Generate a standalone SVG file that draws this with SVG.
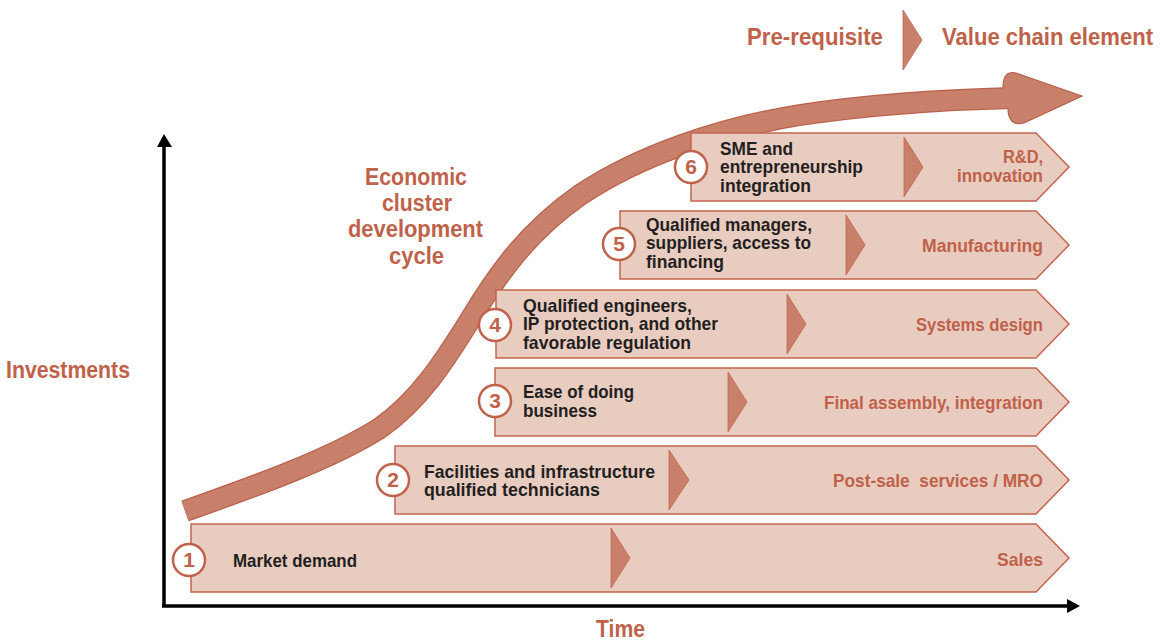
<svg xmlns="http://www.w3.org/2000/svg" width="1166" height="640" viewBox="0 0 1166 640">
<style>
.bar{fill:#e9ccc0;stroke:#c4644e;stroke-width:1.5}
.tri{fill:#c8806b;stroke:#c4644e;stroke-width:0.8}
.num{fill:#fff;stroke:#c0614a;stroke-width:2.5}
text{font-family:"Liberation Sans",Arial,sans-serif;font-weight:bold}
.numt{font-size:21px;fill:#c0614a;text-anchor:middle}
.dt{font-size:19px;fill:#231f20}
.ot{font-size:19px;fill:#c0614a;text-anchor:end}
.big{font-size:23px;fill:#c0614a}
</style>
<rect width="1166" height="640" fill="#fff"/>

<g id="connectors">
<line x1="164" y1="606" x2="164" y2="147" stroke="#000" stroke-width="3.5"/>
<path d="M157,147 L164,134 L172,147 Z" fill="#000"/>
<line x1="162" y1="606" x2="1067" y2="606" stroke="#000" stroke-width="3.5"/>
<path d="M1067,599 L1080,606 L1067,613 Z" fill="#000"/>
</g>

<g id="cycle-arrow">
<path d="M185,511 C250,488 330,460 380,428 C420,400 445,360 470,320 C500,270 530,230 580,195 C640,155 720,128 800,115 C860,106 930,100 1012,98" fill="none" stroke="#b9614b" stroke-width="22"/>
<path d="M1003,88 Q1003,70 1016,73 L1082,96 L1024,123 Q1008,127 1008,108 Z" fill="#c8806b" stroke="#b9614b" stroke-width="1.2"/>
<path d="M185,511 C250,488 330,460 380,428 C420,400 445,360 470,320 C500,270 530,230 580,195 C640,155 720,128 800,115 C860,106 930,100 1014,98" fill="none" stroke="#c8806b" stroke-width="19.5"/>
</g>

<g id="bar1">
<path class="bar" d="M191,524 H1036 L1069,558 L1036,592 H191 Z"/>
<path class="tri" d="M611,528 L630,558 L611,588 Z"/>
<circle class="num" cx="189" cy="560" r="16"/>
<text class="numt" x="189" y="567">1</text>
<text class="dt" x="233" y="567" textLength="124" lengthAdjust="spacingAndGlyphs">Market demand</text>
<text class="ot" x="1043" y="566" textLength="46" lengthAdjust="spacingAndGlyphs">Sales</text>
</g>

<g id="bar2">
<path class="bar" d="M395,446 H1036 L1069,480 L1036,514 H395 Z"/>
<path class="tri" d="M669,450 L689,480 L669,510 Z"/>
<circle class="num" cx="393" cy="480" r="16"/>
<text class="numt" x="393" y="487">2</text>
<text class="dt" x="424" y="478" textLength="231" lengthAdjust="spacingAndGlyphs">Facilities and infrastructure</text>
<text class="dt" x="424" y="496" textLength="176" lengthAdjust="spacingAndGlyphs">qualified technicians</text>
<text class="ot" x="1043" y="487" xml:space="preserve" textLength="210" lengthAdjust="spacingAndGlyphs">Post-sale  services / MRO</text>
</g>

<g id="bar3">
<path class="bar" d="M495,368 H1036 L1069,402 L1036,436 H495 Z"/>
<path class="tri" d="M728,372 L747,402 L728,432 Z"/>
<circle class="num" cx="495" cy="401" r="16"/>
<text class="numt" x="495" y="408">3</text>
<text class="dt" x="523" y="398" textLength="111" lengthAdjust="spacingAndGlyphs">Ease of doing</text>
<text class="dt" x="523" y="417" textLength="74" lengthAdjust="spacingAndGlyphs">business</text>
<text class="ot" x="1043" y="409" textLength="219" lengthAdjust="spacingAndGlyphs">Final assembly, integration</text>
</g>

<g id="bar4">
<path class="bar" d="M496,290 H1036 L1069,324 L1036,358 H496 Z"/>
<path class="tri" d="M787,294 L806,324 L787,354 Z"/>
<circle class="num" cx="495" cy="325" r="16"/>
<text class="numt" x="495" y="332">4</text>
<text class="dt" x="523" y="312" textLength="169" lengthAdjust="spacingAndGlyphs">Qualified engineers,</text>
<text class="dt" x="523" y="330" textLength="195" lengthAdjust="spacingAndGlyphs">IP protection, and other</text>
<text class="dt" x="523" y="349" textLength="168" lengthAdjust="spacingAndGlyphs">favorable regulation</text>
<text class="ot" x="1043" y="331" textLength="127" lengthAdjust="spacingAndGlyphs">Systems design</text>
</g>

<g id="bar5">
<path class="bar" d="M620,211 H1036 L1069,245 L1036,279 H620 Z"/>
<path class="tri" d="M846,215 L865,245 L846,275 Z"/>
<circle class="num" cx="619" cy="244" r="16"/>
<text class="numt" x="619" y="251">5</text>
<text class="dt" x="646" y="231" textLength="166" lengthAdjust="spacingAndGlyphs">Qualified managers,</text>
<text class="dt" x="646" y="249" textLength="165" lengthAdjust="spacingAndGlyphs">suppliers, access to</text>
<text class="dt" x="646" y="268" textLength="78" lengthAdjust="spacingAndGlyphs">financing</text>
<text class="ot" x="1043" y="252" textLength="121" lengthAdjust="spacingAndGlyphs">Manufacturing</text>
</g>

<g id="bar6">
<path class="bar" d="M691,133 H1036 L1069,167 L1036,201 H691 Z"/>
<path class="tri" d="M904,137 L923,167 L904,197 Z"/>
<circle class="num" cx="691" cy="167" r="16"/>
<text class="numt" x="691" y="174">6</text>
<text class="dt" x="720" y="155" textLength="73" lengthAdjust="spacingAndGlyphs">SME and</text>
<text class="dt" x="720" y="173" textLength="143" lengthAdjust="spacingAndGlyphs">entrepreneurship</text>
<text class="dt" x="720" y="192" textLength="91" lengthAdjust="spacingAndGlyphs">integration</text>
<text class="ot" x="1043" y="163" textLength="40" lengthAdjust="spacingAndGlyphs">R&amp;D,</text>
<text class="ot" x="1043" y="182" textLength="86" lengthAdjust="spacingAndGlyphs">innovation</text>
</g>

<g id="legend">
<text class="big" x="747" y="45" textLength="136" lengthAdjust="spacingAndGlyphs">Pre-requisite</text>
<path class="tri" d="M903,10 L922,40 L903,70 Z"/>
<text class="big" x="942" y="45" textLength="211" lengthAdjust="spacingAndGlyphs">Value chain element</text>
</g>

<g id="labels">
<text class="big" x="6" y="378" textLength="124" lengthAdjust="spacingAndGlyphs">Investments</text>
<text class="big" x="596" y="637" textLength="49" lengthAdjust="spacingAndGlyphs">Time</text>
<text class="big" x="365" y="185" textLength="102" lengthAdjust="spacingAndGlyphs">Economic</text>
<text class="big" x="382" y="211" textLength="70" lengthAdjust="spacingAndGlyphs">cluster</text>
<text class="big" x="348" y="237" textLength="135" lengthAdjust="spacingAndGlyphs">development</text>
<text class="big" x="389" y="264" textLength="55" lengthAdjust="spacingAndGlyphs">cycle</text>
</g>
</svg>
